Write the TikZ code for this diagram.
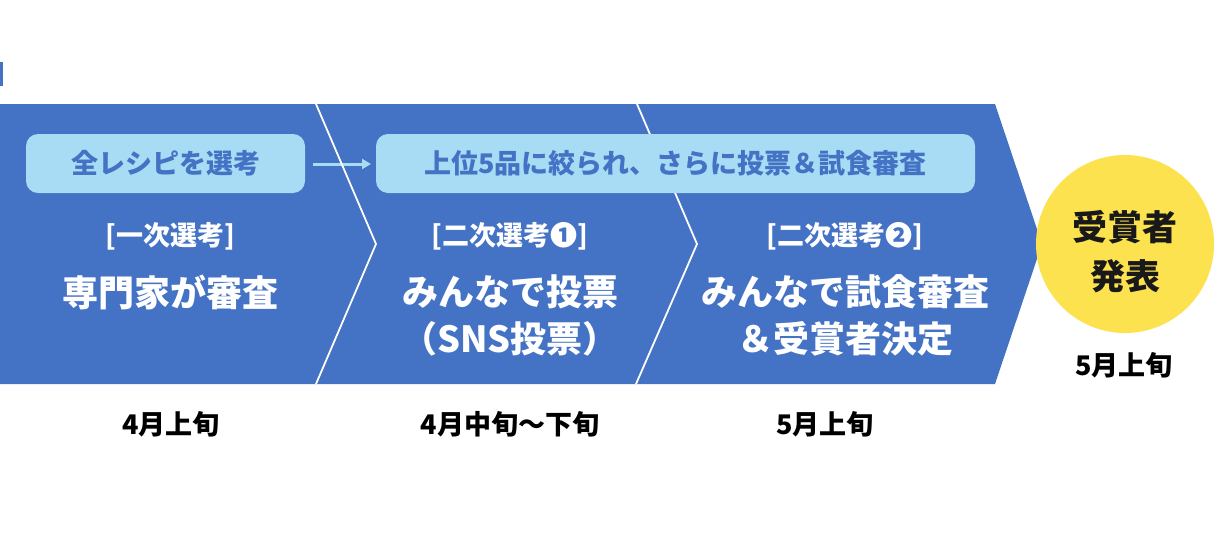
\documentclass[tikz,border=0pt]{standalone}
\usepackage{fontspec}
\usetikzlibrary{arrows.meta}
\setmainfont{Noto Sans CJK JP}[BoldFont={Noto Sans CJK JP Black}]
\definecolor{band}{HTML}{4472C4}
\definecolor{pill}{HTML}{A8DCF4}
\definecolor{pilltxt}{HTML}{4472C4}
\definecolor{sun}{HTML}{FDE24F}
\tikzset{
  pillbox/.style={fill=pill,rounded corners=12pt,draw=none},
  pilltext/.style={text=pilltxt,font=\bfseries\fontsize{27}{30}\selectfont,anchor=center},
  stage/.style={text=white,font=\bfseries\fontsize{27}{30}\selectfont,anchor=center},
  title/.style={text=white,font=\bfseries\fontsize{36}{47}\selectfont,anchor=center,align=center},
  date/.style={text=black,font=\bfseries\fontsize{27}{30}\selectfont,anchor=center},
  sep/.style={draw=white,line width=1.8pt},
}
\begin{document}
\begin{tikzpicture}[x=1pt,y=-1pt]
\useasboundingbox (0,0) rectangle (1220,557);
\fill[white] (0,0) rectangle (1220,557);
\fill[band] (0,104) -- (995,104) -- (1042,244) -- (995,384) -- (0,384) -- cycle;
\fill[band] (0,62) rectangle (2.5,86);
\coordinate (a1) at (313,164);
\coordinate (a2) at (371,164);
\draw[pill,line width=3pt,-{Triangle[length=9pt,width=10pt]}] (a1) -- (a2);
\draw[sep] (316,104) -- (376,244) -- (316,384);
\draw[sep] (637,104) -- (697,244) -- (636,384);
\fill[pillbox] (26,134) rectangle (305,193);
\fill[pillbox] (376,134) rectangle (975,193);
\node[pilltext] (p1) at (165.5,163.5) {全レシピを選考};
\node[pilltext] (p2) at (675.5,163.5) {上位5品に絞られ、さらに投票＆試食審査};
\node[stage] (s1) at (170,236) {[一次選考]};
\node[title] (t1) at (170,292) {専門家が審査};
\node[stage] (s2) at (510,236) {[二次選考❶]};
\node[title] (t2) at (510,315) {みんなで投票\\（SNS投票）};
\node[stage] (s3) at (845,236) {[二次選考❷]};
\node[title] (t3) at (845,315) {みんなで試食審査\\＆受賞者決定};
\fill[sun] (1125,244) circle (89);
\node[text=black!90,font=\bfseries\fontsize{35}{49}\selectfont,align=center] (w) at (1125,252) {受賞者\\発表};
\node[date] (d4) at (1124,365) {5月上旬};
\node[date] (d1) at (171,424) {4月上旬};
\node[date] (d2) at (510,424) {4月中旬〜下旬};
\node[date] (d3) at (825,424) {5月上旬};
\end{tikzpicture}
\end{document}
